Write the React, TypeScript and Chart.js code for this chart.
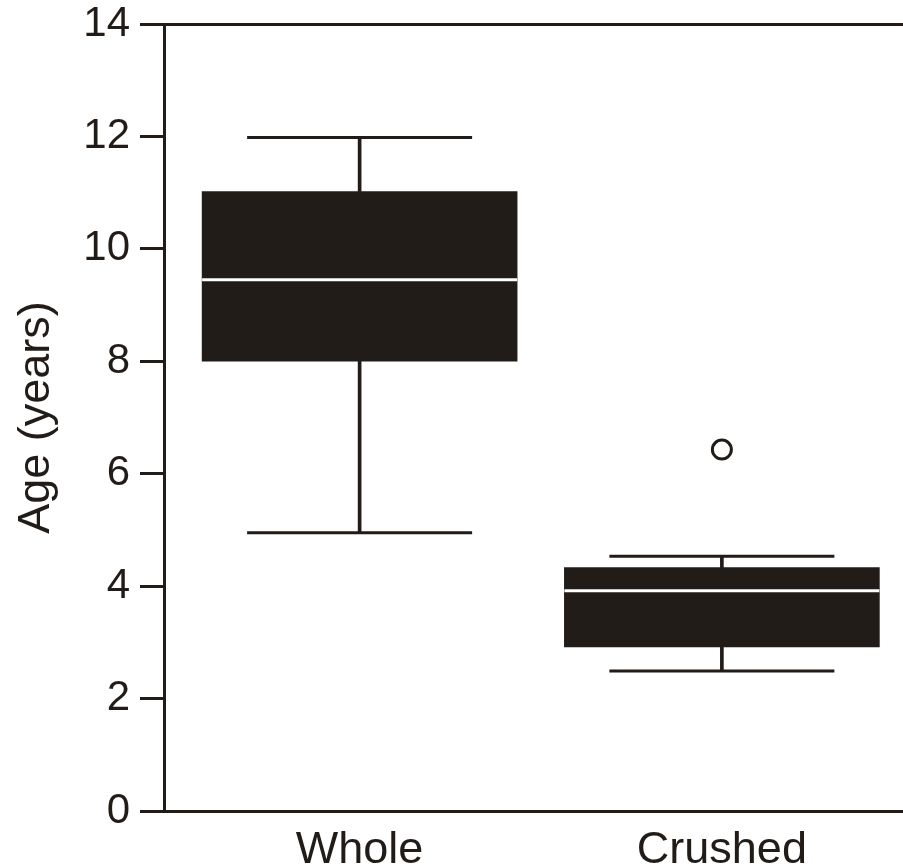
import React, { useEffect, useRef } from "react";
import { Chart, registerables } from "chart.js";

Chart.register(...registerables);

// ---- data ----
const categories = ["Whole", "Crushed"];
const categoryX = [1, 2];
const whiskerLow = [4.95, 2.49];
const q1 = [8.0, 2.92];
const median = [9.45, 3.92];
const q3 = [11.02, 4.33];
const whiskerHigh = [11.98, 4.53];
const outlierGroup = [2];
const outlierValue = [6.43];
const yTicks = [0, 2, 4, 6, 8, 10, 12, 14];

const DARK = "#211c17";
const FONT = "'Liberation Sans', Arial, Helvetica, sans-serif";

export default function App() {
  const ref = useRef<HTMLCanvasElement | null>(null);

  useEffect(() => {
    const canvas = ref.current;
    if (!canvas) return;

    const chart = new Chart(canvas, {
      type: "bar",
      data: {
        datasets: [
          {
            type: "scatter",
            label: "median",
            data: categoryX.map((x, i) => ({ x, y: median[i] })),
            pointStyle: "line",
            pointRadius: 157.5,
            pointHoverRadius: 157.5,
            borderColor: "#ffffff",
            pointBorderColor: "#ffffff",
            pointBorderWidth: 3,
            borderWidth: 3,
            order: 0,
          } as any,
          {
            type: "scatter",
            label: "outliers",
            data: outlierGroup.map((x, i) => ({ x, y: outlierValue[i] })),
            pointStyle: "circle",
            pointRadius: 9.5,
            pointBackgroundColor: "#ffffff",
            pointBorderColor: DARK,
            pointBorderWidth: 3,
            order: 0,
          } as any,
          {
            type: "bar",
            label: "box",
            data: categoryX.map((x, i) => ({ x, y: [q1[i], q3[i]] })),
            backgroundColor: DARK,
            borderWidth: 0,
            barThickness: 315,
            grouped: false,
            order: 1,
          } as any,
          {
            type: "bar",
            label: "whisker low",
            data: categoryX.map((x, i) => ({ x, y: [whiskerLow[i], q1[i]] })),
            backgroundColor: DARK,
            borderWidth: 0,
            barThickness: 3,
            grouped: false,
            order: 2,
          } as any,
          {
            type: "bar",
            label: "whisker high",
            data: categoryX.map((x, i) => ({ x, y: [q3[i], whiskerHigh[i]] })),
            backgroundColor: DARK,
            borderWidth: 0,
            barThickness: 3,
            grouped: false,
            order: 2,
          } as any,
          {
            type: "scatter",
            label: "caps",
            data: [
              ...categoryX.map((x, i) => ({ x, y: whiskerLow[i] })),
              ...categoryX.map((x, i) => ({ x, y: whiskerHigh[i] })),
            ],
            pointStyle: "line",
            pointRadius: 112.5,
            pointHoverRadius: 112.5,
            pointBorderColor: DARK,
            borderColor: DARK,
            pointBorderWidth: 3,
            borderWidth: 3,
            order: 2,
          } as any,
        ],
      },
      options: {
        animation: false,
        responsive: false,
        maintainAspectRatio: false,
        layout: { padding: 0, autoPadding: false },
        plugins: {
          legend: { display: false },
          tooltip: { enabled: false },
        },
        scales: {
          x: {
            type: "linear",
            min: 0.46,
            max: 2.5,
            offset: false,
            afterBuildTicks: (scale: any) => {
              scale.ticks = categoryX.map((v) => ({ value: v }));
            },
            afterFit: (scale: any) => {
              scale.height = 56;
              scale.paddingLeft = 0;
              scale.paddingRight = 0;
            },
            grid: { display: false, drawTicks: false, offset: false },
            border: { display: true, color: DARK, width: 3 },
            ticks: {
              autoSkip: false,
              maxRotation: 0,
              padding: 13,
              color: DARK,
              font: { family: FONT, size: 45, lineHeight: 1.2 },
              callback: (v: any) => {
                const i = categoryX.indexOf(Number(v));
                return i >= 0 ? categories[i] : "";
              },
            },
          } as any,
          y: {
            type: "linear",
            min: 0,
            max: 14,
            afterBuildTicks: (scale: any) => {
              scale.ticks = yTicks.map((v) => ({ value: v }));
            },
            afterFit: (scale: any) => {
              scale.width = 164;
              scale.paddingTop = 24;
              scale.paddingBottom = 0;
            },
            grid: {
              display: true,
              drawOnChartArea: true,
              drawTicks: true,
              tickLength: 24,
              lineWidth: 3,
              tickWidth: 3,
              tickColor: DARK,
              color: (ctx: any) =>
                ctx.tick && ctx.tick.value === 14 ? DARK : "rgba(0,0,0,0)",
            },
            border: { display: true, color: DARK, width: 3 },
            ticks: {
              padding: 10,
              color: DARK,
              font: { family: FONT, size: 42, lineHeight: 1.2 },
            },
            title: {
              display: true,
              text: "Age (years)",
              color: DARK,
              font: { family: FONT, size: 45, lineHeight: 1.2 },
              padding: { top: 10, bottom: 0 },
            },
          } as any,
        },
      },
    });

    return () => chart.destroy();
  }, []);

  return (
    <div style={{ position: "fixed", left: 0, top: 0, width: 903, height: 867, background: "#ffffff" }}>
      <canvas ref={ref} width={903} height={867} style={{ display: "block" }} />
    </div>
  );
}
